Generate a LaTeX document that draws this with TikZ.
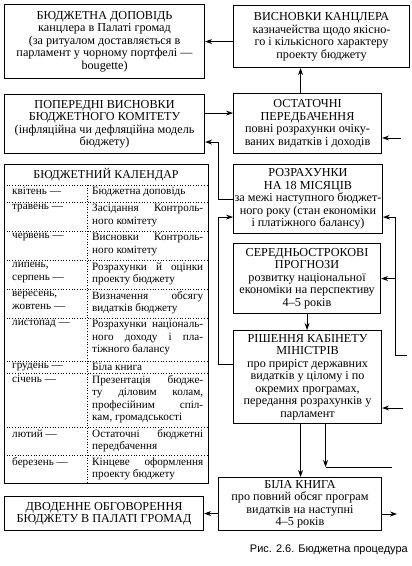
\documentclass[tikz,border=0pt]{standalone}
\usepackage{fontspec}
\setmainfont{Liberation Serif}
\newfontfamily\capfont{Liberation Sans}
\usetikzlibrary{positioning,arrows.meta,calc}
\tikzset{
  blk/.style={rectangle, draw, line width=1.1pt, anchor=north west, align=center,
              inner sep=1pt, font=\fontsize{12.2}{12.5}\selectfont},
  flow/.style={-{Stealth[length=7pt, width=5pt]}, line width=0.9pt},
  link/.style={line width=0.9pt},
  sep/.style={dotted, line width=0.7pt},
  mon/.style={anchor=north west, inner sep=0pt, align=left, font=\fontsize{11.2}{12.4}\selectfont},
  evt/.style={anchor=north west, inner sep=0pt, text width=111pt, align=justify,
              font=\fontsize{11.2}{12.4}\selectfont},
}

\begin{document}
\begin{tikzpicture}[x=1pt, y=-1pt]
  \useasboundingbox (0,0) rectangle (412,566);

  % left column
  \node[blk, minimum width=200pt, minimum height=74pt] (dop) at (4,4)
    {БЮДЖЕТНА ДОПОВІДЬ\\канцлера в Палаті громад\\(за ритуалом доставляється в\\парламент у чорному портфелі —\\bougette)};
  \node[blk, minimum width=200pt, minimum height=59pt] (poper) at (4,94)
    {ПОПЕРЕДНІ ВИСНОВКИ\\БЮДЖЕТНОГО КОМІТЕТУ\\(інфляційна чи дефляційна модель\\бюджету)};
  \node[blk, minimum width=204pt, minimum height=319pt] (kal) at (4,164) {};
  \node[blk, minimum width=199pt, minimum height=34pt] (dvod) at (4,496)
    {ДВОДЕННЕ ОБГОВОРЕННЯ\\БЮДЖЕТУ В ПАЛАТІ ГРОМАД};

  % right column
  \node[blk, minimum width=176pt, minimum height=62pt] (vysn) at (233,5)
    {ВИСНОВКИ КАНЦЛЕРА\\казначейства щодо якісно-\\го і кількісного характеру\\проекту бюджету};
  \node[blk, minimum width=148pt, minimum height=60pt] (ostat) at (233,93)
    {ОСТАТОЧНІ\\ПЕРЕДБАЧЕННЯ\\повні розрахунки очіку-\\ваних видатків і доходів};
  \node[blk, minimum width=147pt, minimum height=69pt] (rozr) at (233,164)
    {РОЗРАХУНКИ\\НА 18 МІСЯЦІВ\\за межі наступного бюджет-\\ного року (стан економіки\\і платіжного балансу)};
  \node[blk, minimum width=147pt, minimum height=70pt] (seredn) at (233,243)
    {СЕРЕДНЬОСТРОКОВІ\\ПРОГНОЗИ\\розвитку національної\\економіки на перспективу\\4–5 років};
  \node[blk, minimum width=148pt, minimum height=93pt] (rish) at (233,330)
    {РІШЕННЯ КАБІНЕТУ\\МІНІСТРІВ\\про приріст державних\\видатків у цілому і по\\окремих програмах,\\передання розрахунків у\\парламент};
  \node[blk, minimum width=163pt, minimum height=53pt] (bila) at (218,477)
    {БІЛА КНИГА\\про повний обсяг програм\\видатків на наступні\\4–5 років};

  % calendar
  \node[anchor=north, inner sep=0pt, font=\fontsize{12}{12.4}\selectfont] (kalhead) at (106,168)
    {БЮДЖЕТНИЙ КАЛЕНДАР};
  \foreach \yt in {185,202,231,260,289,318,361,373,427,455}
    \draw[sep] (4,\yt) -- (208,\yt);
  \draw[sep] (87,185) -- (87,483);
  \foreach \yt/\m/\e [count=\i] in {
      185/{квітень —}/{Бюджетна доповідь},
      202/{травень —}/{Засідання Контроль-\linebreak ного комітету},
      231/{червень —}/{Висновки Контроль-\linebreak ного комітету},
      260/{липень,\\серпень —}/{Розрахунки й оцінки\linebreak проекту бюджету},
      289/{вересень,\\жовтень —}/{Визначення обсягу\linebreak видатків бюджету},
      318/{листопад —}/{Розрахунки національ-\linebreak ного доходу і пла-\linebreak тіжного балансу},
      361/{грудень —}/{Біла книга},
      373/{січень —}/{Презентація бюдже-\linebreak ту діловим колам,\linebreak професійним спіл-\linebreak кам, громадськості},
      427/{лютий —}/{Остаточні бюджетні\linebreak передбачення},
      455/{березень —}/{Кінцеве оформлення\linebreak проекту бюджету}}{
    \node[mon] (mon\i) at (12,\yt+2.2) {\m};
    \node[evt] (evt\i) at (92,\yt+2.2) {\e};
  }

  % connectors
  \draw[flow] (vysn.west |- dop.east) -- (dop.east);
  \draw[flow] ([xshift=-7pt]ostat.north) -- ([xshift=-7pt]ostat.north |- vysn.south);
  \draw[flow] ([yshift=11pt]poper.east) -- ([yshift=11pt]poper.east -| ostat.west);
  \draw[flow] (rozr.west) -- ++(-15pt,0) |- ([yshift=-18pt]poper.east);
  \draw[flow] ([yshift=13pt]rish.west) -- ++(-15pt,0) |- ([yshift=-18pt]rozr.west);
  \draw[flow] (seredn.south) -- (seredn.south |- rish.north);
  \draw[flow] ([xshift=-7pt]rish.south) -- ([xshift=-7pt]rish.south |- bila.north);
  \coordinate (outP) at (392,467);
  \draw[flow] ([xshift=18pt]rish.south) -- ([xshift=18pt]rish.south |- outP);
  \draw[link] ([xshift=18pt]rish.south |- outP) -- (outP);
  \draw[flow] (bila.west |- dvod.east) -- (dvod.east);
  \coordinate (outB) at (397,514);
  \draw[flow] (bila.east |- outB) -- (outB);

  % inputs from the right
  \coordinate (inD) at (401,138);
  \draw[flow] (inD) -- (inD -| ostat.east);
  \coordinate (inR) at (407,355);
  \coordinate (inRb) at (395,355);
  \draw[flow] (inR) -- (inRb) |- ([yshift=-18pt]rozr.east);
  \draw[flow] (inRb |- seredn.east) -- (seredn.east);
  \coordinate (inG) at (403,408);
  \draw[flow] (inG) -- (inG -| rish.east);

  \node[anchor=east, inner sep=0pt, font=\capfont\fontsize{11}{13}\selectfont] (cap) at (408,550)
    {Рис. 2.6. Бюджетна процедура};
\end{tikzpicture}
\end{document}
